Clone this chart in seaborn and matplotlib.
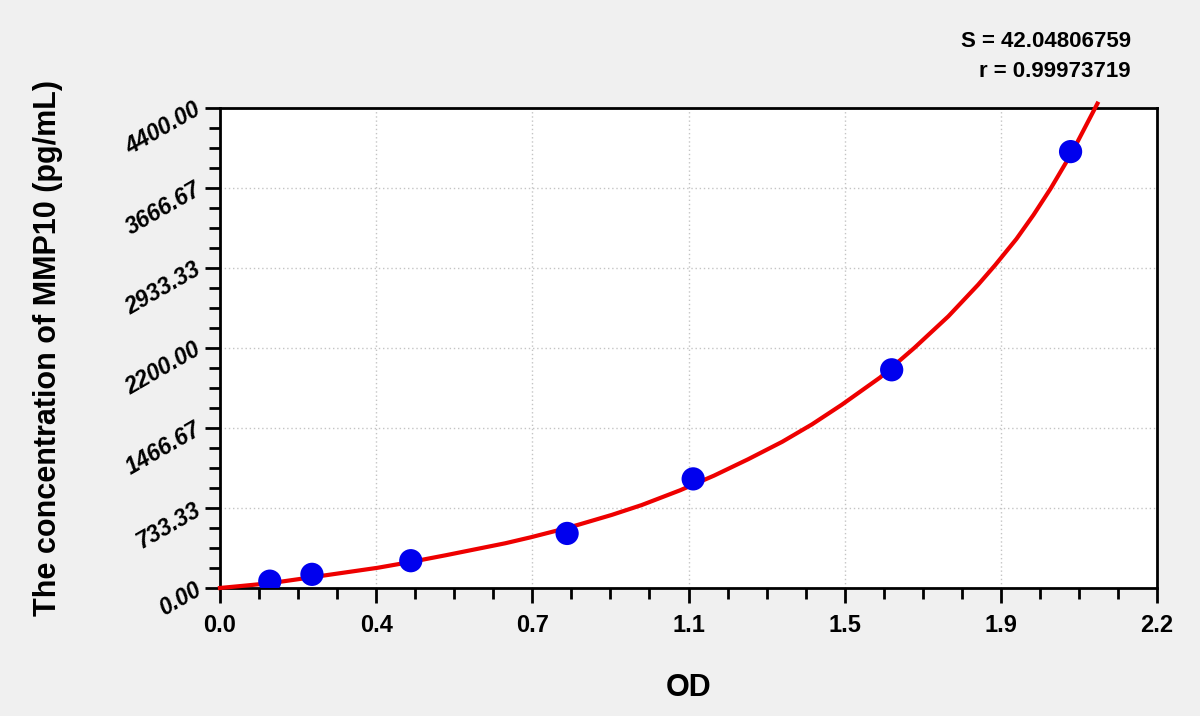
import matplotlib
matplotlib.use('Agg')

import matplotlib.pyplot as plt
from matplotlib.ticker import AutoMinorLocator
import seaborn as sns
import pandas as pd

# standardy: OD i stezenie
od_values = [0.117, 0.216, 0.448, 0.815, 1.111, 1.577, 1.997]
conc_values = [62.5, 125, 250, 500, 1000, 2000, 4000]

# krzywa dopasowania
curve_od = [0.00, 0.06, 0.12, 0.21, 0.29, 0.37, 0.45, 0.53, 0.60, 0.67, 0.73,
            0.79, 0.84, 0.92, 0.99, 1.08, 1.16, 1.24, 1.32, 1.39, 1.46, 1.55,
            1.63, 1.71, 1.78, 1.82, 1.87, 1.91, 1.95, 2.00, 2.06]
curve_conc = [0, 22, 45, 95, 140, 185, 240, 300, 355, 410, 465,
              525, 578, 670, 760, 895, 1030, 1180, 1340, 1500, 1680, 1930,
              2200, 2490, 2780, 2960, 3200, 3420, 3660, 3990, 4440]

x_ticks = [0.0, 2.2 / 6, 4.4 / 6, 1.1, 8.8 / 6, 11.0 / 6, 2.2]
x_labels = ['0.0', '0.4', '0.7', '1.1', '1.5', '1.9', '2.2']
y_ticks = [0, 733.33, 1466.67, 2200, 2933.33, 3666.67, 4400]
y_labels = ['0.00', '733.33', '1466.67', '2200.00', '2933.33', '3666.67', '4400.00']

stats_text = ['S = 42.04806759', 'r = 0.99973719']

points = pd.DataFrame({'OD': od_values, 'conc': conc_values})
curve = pd.DataFrame({'OD': curve_od, 'conc': curve_conc})

plt.rcParams['font.family'] = ['Liberation Sans', 'DejaVu Sans']
plt.rcParams['font.weight'] = 'bold'

fig = plt.figure(figsize=(12, 7.16), dpi=100, facecolor='#f0f0f0')
ax = fig.add_axes([0.1833, 0.1788, 0.9642 - 0.1833, 0.8492 - 0.1788])
ax.set_facecolor('white')

sns.lineplot(data=curve, x='OD', y='conc', color='#ee0000', linewidth=3,
             ax=ax, clip_on=False, zorder=3)
sns.scatterplot(data=points, x='OD', y='conc', color='#0000ee', s=280,
                edgecolor='none', ax=ax, zorder=4)

ax.set_xlim(0, 2.2)
ax.set_ylim(0, 4400)
ax.set_xticks(x_ticks)
ax.set_xticklabels(x_labels, fontsize=17, fontweight='bold')
ax.set_yticks(y_ticks)
ax.set_yticklabels(y_labels, fontsize=16.5, fontweight='bold', style='italic',
                   rotation=30, ha='right', va='center', rotation_mode='anchor')
ax.xaxis.set_minor_locator(AutoMinorLocator(4))
ax.yaxis.set_minor_locator(AutoMinorLocator(4))

ax.tick_params(axis='both', which='major', direction='out', length=11, width=2, color='black')
ax.tick_params(axis='both', which='minor', direction='out', length=8, width=2, color='black')
ax.tick_params(axis='x', pad=8)
ax.tick_params(axis='y', pad=4)

for side in ['left', 'bottom', 'top', 'right']:
    ax.spines[side].set_linewidth(2)
    ax.spines[side].set_color('black')

ax.grid(True, which='major', color='#c4c4c4', linestyle=(0, (1, 2)), linewidth=1)

ax.set_xlabel('OD', fontsize=22, fontweight='bold', labelpad=26)
ax.set_ylabel('The concentration of MMP10 (pg/mL)', fontsize=22, fontweight='bold', labelpad=42)

fig.text(0.9425, 0.942, stats_text[0], fontsize=16, fontweight='bold', ha='right', va='center')
fig.text(0.9425, 0.900, stats_text[1], fontsize=16, fontweight='bold', ha='right', va='center')

plt.savefig('out.png', dpi=100, facecolor=fig.get_facecolor())
